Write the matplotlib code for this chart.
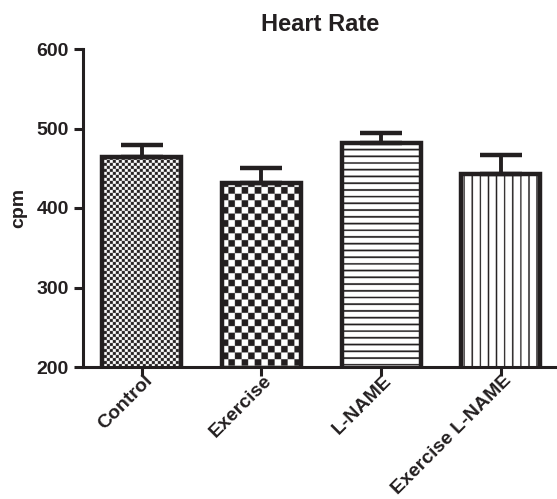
import numpy as np
import matplotlib
matplotlib.use('Agg')
import matplotlib.pyplot as plt
import matplotlib.transforms as mtransforms

plt.rcParams['font.family'] = ['Liberation Sans', 'DejaVu Sans']
plt.rcParams['font.weight'] = 'bold'

groups = ['Control', 'Exercise', 'L-NAME', 'Exercise L-NAME']
means = [464, 432, 482, 443]
sems = [15, 18, 12, 24]
patterns = ['fine_checker', 'checker', 'hlines', 'vlines']

ink = '#231f20'

fig = plt.figure(figsize=(5.57, 4.99), dpi=100)
# axes placed on whole pixels so the fill textures line up with the pixel grid
ax = fig.add_axes([83 / 557, 132 / 499, 474 / 557, 318 / 499])

x = np.arange(len(groups))
bars = ax.bar(x, means, width=0.66, bottom=0, facecolor='none',
              edgecolor=ink, linewidth=3.2, zorder=3)
ax.errorbar(x, means, yerr=[np.zeros(len(sems)), sems], fmt='none',
            ecolor=ink, elinewidth=2.8, capsize=15, capthick=3.2, zorder=2.5)

xlim = (-0.49, 3.47)
ylim = (200, 600)
ax.set_xlim(*xlim)
ax.set_ylim(*ylim)

# texture grid in (oversampled) screen pixels
k = 4
W, H = 474, 318
jj, ii = np.meshgrid((np.arange(W * k) + 0.5) / k, (np.arange(H * k) + 0.5) / k)


def texture(kind):
    if kind == 'fine_checker':
        t = (np.floor(jj / 3) + np.floor(ii / 3)) % 2
    elif kind == 'checker':
        t = (np.floor(jj / 6.6) + np.floor(ii / 6.6)) % 2
    elif kind == 'hlines':
        t = ((ii % 6.7) < 1.7).astype(float)
    else:
        t = ((jj % 8.1) < 1.4).astype(float)
    return t


cmap = matplotlib.colors.LinearSegmentedColormap.from_list('ink', ['white', ink])
for bar, kind in zip(bars, patterns):
    im = ax.imshow(texture(kind), extent=(xlim[0], xlim[1], ylim[0], ylim[1]),
                   origin='upper', cmap=cmap, vmin=0, vmax=1,
                   interpolation='antialiased', aspect='auto', zorder=2)
    im.set_clip_path(bar)

ax.set_xlim(*xlim)
ax.set_ylim(*ylim)

for s in ['top', 'right']:
    ax.spines[s].set_visible(False)
for s in ['left', 'bottom']:
    ax.spines[s].set_linewidth(2.2)
    ax.spines[s].set_color(ink)

ax.set_yticks([200, 300, 400, 500, 600])
ax.tick_params(axis='both', colors=ink, width=2.2, length=6.5, labelsize=14)
ax.set_xticks(x)
ax.set_xticklabels(groups, rotation=45, ha='right', va='center',
                   rotation_mode='anchor', fontsize=14)
offset = mtransforms.ScaledTranslation(6 / 72, 2 / 72, fig.dpi_scale_trans)
for lbl in ax.get_xticklabels():
    lbl.set_transform(lbl.get_transform() + offset)

ax.set_title('Heart Rate', fontsize=17, fontweight='bold', color=ink, pad=13)
ax.set_ylabel('cpm', fontsize=14, fontweight='bold', color=ink, labelpad=7)

fig.savefig('out.png', dpi=100)
